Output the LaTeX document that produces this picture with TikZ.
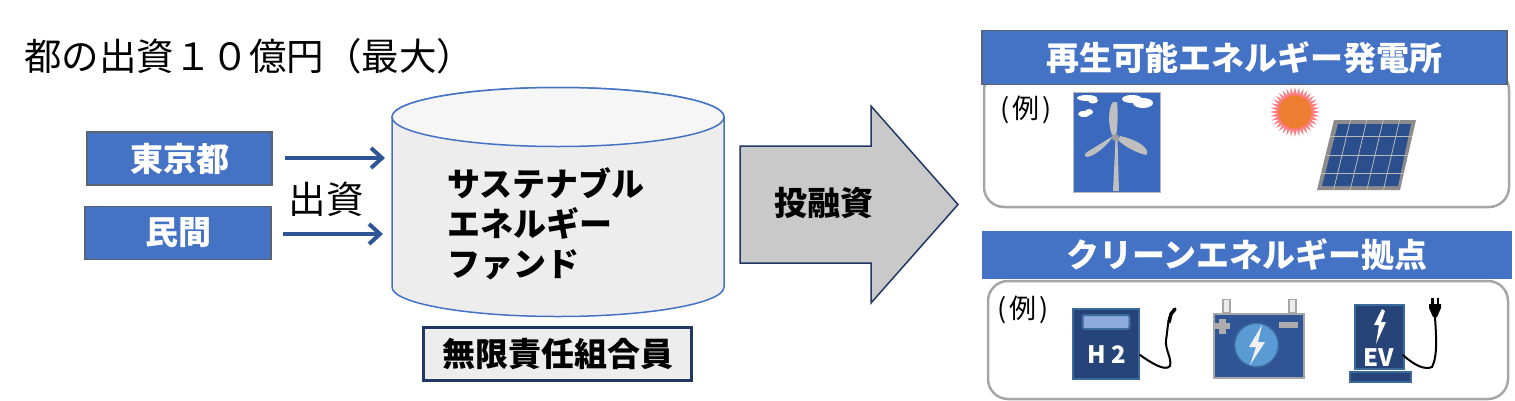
\documentclass[tikz,border=0pt]{standalone}
\usepackage{fontspec}
\setmainfont{Noto Sans CJK JP}
\usetikzlibrary{arrows.meta,shapes.geometric,shapes.misc,calc}
\definecolor{bluebox}{HTML}{4472C4}
\definecolor{arrowblue}{HTML}{2F5597}
\definecolor{navy}{HTML}{1F3864}
\definecolor{slateedge}{HTML}{5A6470}
\definecolor{frame}{HTML}{A6A6A6}
\definecolor{cylfill}{HTML}{EDEDED}
\definecolor{cyltop}{HTML}{F6F6F6}
\definecolor{greyarrow}{HTML}{C9C9C9}
\definecolor{windblue}{HTML}{3B69BD}
\definecolor{panelblue}{HTML}{2F5597}
\definecolor{solarblue}{HTML}{2B4F8C}
\definecolor{darkpanel}{HTML}{264478}
\definecolor{edgeblue}{HTML}{3A6A9B}
\definecolor{windowblue}{HTML}{8FAADC}
\definecolor{circleblue}{HTML}{5B9BD5}
\definecolor{sunorange}{HTML}{ED7D31}
\definecolor{sunpink}{HTML}{FF7C80}
\definecolor{bladegrey}{HTML}{BFBFBF}
\tikzset{
  labelbox/.style={draw=#1,fill=bluebox,line width=1.5pt,text=white,font=\fontsize{33}{38}\selectfont\bfseries,inner sep=0pt,anchor=center},
  labelbox/.default=slateedge,
  feed/.style={draw=arrowblue,line width=4pt,-{Straight Barb[length=11pt,width=20pt,line width=4pt]}},
  roundframe/.style={draw=frame,line width=2.5pt,rounded corners=20pt,fill=white},
  plain/.style={font=\fontsize{37.5}{44}\selectfont,inner sep=0pt,text=black},
  strong/.style={font=\fontsize{33}{40}\selectfont\bfseries,inner sep=0pt,text=black},
  example/.style={font=\fontsize{27}{32}\selectfont,inner sep=0pt,text=black},
  cable/.style={draw=black,line width=2pt,line cap=round},
  cell/.style={draw=frame!80,line width=0.8pt},
  icontext/.style={text=white,font=\fontsize{24}{28}\selectfont\bfseries,inner sep=0pt},
}
\begin{document}
\begin{tikzpicture}[x=1pt,y=-1pt]
\useasboundingbox[fill=white] (0,0) rectangle (1515,400);

% title
\node[plain,anchor=west] (title) at (24,56) {都の出資１０億円（最大）};

% sources
\node[labelbox,minimum width=185pt,minimum height=53pt] (tokyo) at (179.5,158.5) {\raisebox{1.5pt}{東京都}};
\node[labelbox,minimum width=186pt,minimum height=53pt] (private) at (178,233) {民間};
\coordinate (tokyoStart) at (285,158);
\coordinate (tokyoEnd) at (385,158);
\coordinate (privStart) at (283,234);
\coordinate (privEnd) at (383,234);
\draw[feed] (tokyoStart) -- (tokyoEnd);
\draw[feed] (privStart) -- (privEnd);
\node[plain] (invest) at (326,199) {出資};

% cylinder
\path[draw=bluebox,fill=cylfill,line width=1.5pt]
  (392,117) -- (392,287) arc[start angle=180,end angle=0,x radius=166,y radius=29.5]
  -- (724,117) arc[start angle=0,end angle=-180,x radius=166,y radius=29.5] -- cycle;
\path[draw=bluebox,fill=cyltop,line width=1.5pt] (558,117) ellipse[x radius=166,y radius=29.5];
\node[strong,anchor=north west,align=left] (fund) at (447,167) {サステナブル\\エネルギー\\ファンド};

% GP box
\node[draw=navy,line width=2.5pt,fill=cylfill,minimum width=268pt,minimum height=53pt,inner sep=0pt,font=\fontsize{33}{38}\selectfont\bfseries] (gp) at (557.5,354) {無限責任組合員};

% big arrow
\path[draw=navy,fill=greyarrow,line width=1.5pt]
  (740,146) -- (871,146) -- (871,106) -- (958,204.5) -- (871,303) -- (871,263) -- (740,263) -- cycle;
\node[strong] (finance) at (824,203) {投融資};

% upper panel
\draw[roundframe] (984,70) rectangle (1509,207);
\node[labelbox,minimum width=525pt,minimum height=54pt] (renew) at (1244.5,57.5) {\raisebox{1.5pt}{再生可能エネルギー発電所}};
\node[example] (ex1) at (1026,110) {(\kern3pt 例\kern3pt )};

% wind turbine
\path[fill=windblue,draw=frame!80,line width=1pt] (1073.5,92.5) rectangle (1160,192);
\begin{scope}[fill=white]
  \fill (1087,98) ellipse[x radius=10,y radius=3];
  \fill (1093,100.5) ellipse[x radius=5,y radius=3];
  \fill (1132,99) ellipse[x radius=10,y radius=4];
  \fill (1143,103) ellipse[x radius=10,y radius=5];
  \fill (1084,114) ellipse[x radius=6,y radius=3];
  \fill (1089,112) ellipse[x radius=4,y radius=3];
\end{scope}
\fill[bladegrey] (1113,191) -- (1115.5,140) -- (1117.5,140) -- (1119,191) -- cycle;
\fill[bladegrey] (1112,135) .. controls (1108,125) and (1108,108) .. (1113,102) -- (1117,102) .. controls (1118,112) and (1118,125) .. (1116,136) -- cycle;
\fill[bladegrey] (1113,136) .. controls (1108,145) and (1095,156) .. (1087,157) .. controls (1083,156) and (1085,153) .. (1087,152) .. controls (1097,146) and (1105,141) .. (1113,136) -- cycle;
\fill[bladegrey] (1120,136) .. controls (1130,138) and (1142,143) .. (1146,149) .. controls (1148,152) and (1147,155) .. (1146,155) .. controls (1137,153) and (1125,147) .. (1118,140) -- cycle;
\fill[gray!75] (1115.5,137.5) circle[radius=3.5];

% sun
\node[star,star points=36,star point ratio=1.4,minimum size=50pt,inner sep=0pt,fill=sunpink,draw=none] (sunray) at (1295,112) {};
\node[circle,minimum size=33pt,inner sep=0pt,fill=sunorange] (sun) at (1295,112) {};

% solar panel
\path[fill=gray!90,draw=none] (1334,120) -- (1416,120) -- (1400,190) -- (1317,190) -- cycle;
\path[fill=solarblue,draw=none] (1338,124) -- (1411,124) -- (1398,186) -- (1322,186) -- cycle;
\foreach \t in {0.2,0.4,0.6,0.8}{
  \draw[cell] ($(1334,120)!\t!(1416,120)$) -- ($(1317,190)!\t!(1400,190)$);
}
\foreach \t in {0.24,0.5,0.76}{
  \draw[cell] ($(1334,120)!\t!(1317,190)$) -- ($(1416,120)!\t!(1400,190)$);
}

% lower panel
\draw[roundframe] (988,281) rectangle (1508,399);
\node[labelbox=bluebox,minimum width=528pt,minimum height=47pt] (clean) at (1247,255) {\raisebox{1pt}{クリーンエネルギー拠点}};
\node[example] (ex2) at (1023,310) {(\kern3pt 例\kern3pt )};

% H2 unit
\node[draw=edgeblue,fill=darkpanel,line width=2pt,minimum width=66pt,minimum height=70pt,inner sep=0pt] (h2) at (1106,344) {};
\node[draw=edgeblue,fill=windowblue,line width=2pt,rounded corners=2pt,minimum width=47pt,minimum height=14pt,inner sep=0pt] (h2win) at (1106,322) {};
\node[icontext] (h2t) at (1107,355) {H\kern5pt 2};
\coordinate (h2plug) at (1175,309);
\draw[cable] (h2.east) ++(0,11) .. controls (1150,362) and (1165,372) .. (1170,366) .. controls (1172,358) and (1165,350) .. (1166,340) .. controls (1168,330) and (1167,315) .. (h2plug);
\draw[black,line width=3.5pt,line cap=round] (1169,322) -- (1171,314) -- (h2plug);

% battery
\node[draw=frame,fill=white!85!gray,line width=1.5pt,minimum width=7pt,minimum height=13pt,inner sep=0pt] (termL) at (1226.5,306) {};
\node[draw=frame,fill=white!85!gray,line width=1.5pt,minimum width=7pt,minimum height=13pt,inner sep=0pt] (termR) at (1292.5,306) {};
\node[draw=frame,fill=panelblue,line width=2pt,minimum width=90pt,minimum height=64pt,inner sep=0pt] (batt) at (1259,346) {};
\node[circle,draw=edgeblue,fill=circleblue,line width=1.5pt,minimum size=44pt,inner sep=0pt] (battc) at (1256.5,345) {};
\fill[white!88!gray] (1262,325) -- (1249,347) -- (1256,347) -- (1250,365) -- (1265,342) -- (1258,342) -- cycle;
\fill[gray!65] (1219,319) rectangle (1226,334);
\fill[gray!65] (1215,323) rectangle (1230,329);
\fill[gray!65] (1279,322) rectangle (1298,328);

% EV charger
\node[draw=edgeblue,fill=darkpanel,line width=2pt,minimum width=49pt,minimum height=64pt,inner sep=0pt] (ev) at (1379,337) {};
\node[draw=edgeblue,fill=darkpanel,line width=2pt,minimum width=61pt,minimum height=10pt,inner sep=0pt] (evbase) at (1380,377) {};
\fill[white] (1382,309) -- (1374,325) -- (1379,325) -- (1376,344) -- (1386,322) -- (1381,322) -- (1385,311) -- cycle;
\node[icontext] (evt) at (1379,358) {EV};
\coordinate (evplug) at (1435,317);
\draw[cable] (1403,355) .. controls (1415,366) and (1425,370) .. (1432,367) .. controls (1438,355) and (1436,335) .. (evplug);
\fill[black] (1429,304) -- (1441,304) -- (1441,308) -- (1437,317) -- (1433,317) -- (1429,308) -- cycle;
\fill[black] (1431,298) rectangle (1433.5,305);
\fill[black] (1436.5,298) rectangle (1439,305);
\end{tikzpicture}
\end{document}
